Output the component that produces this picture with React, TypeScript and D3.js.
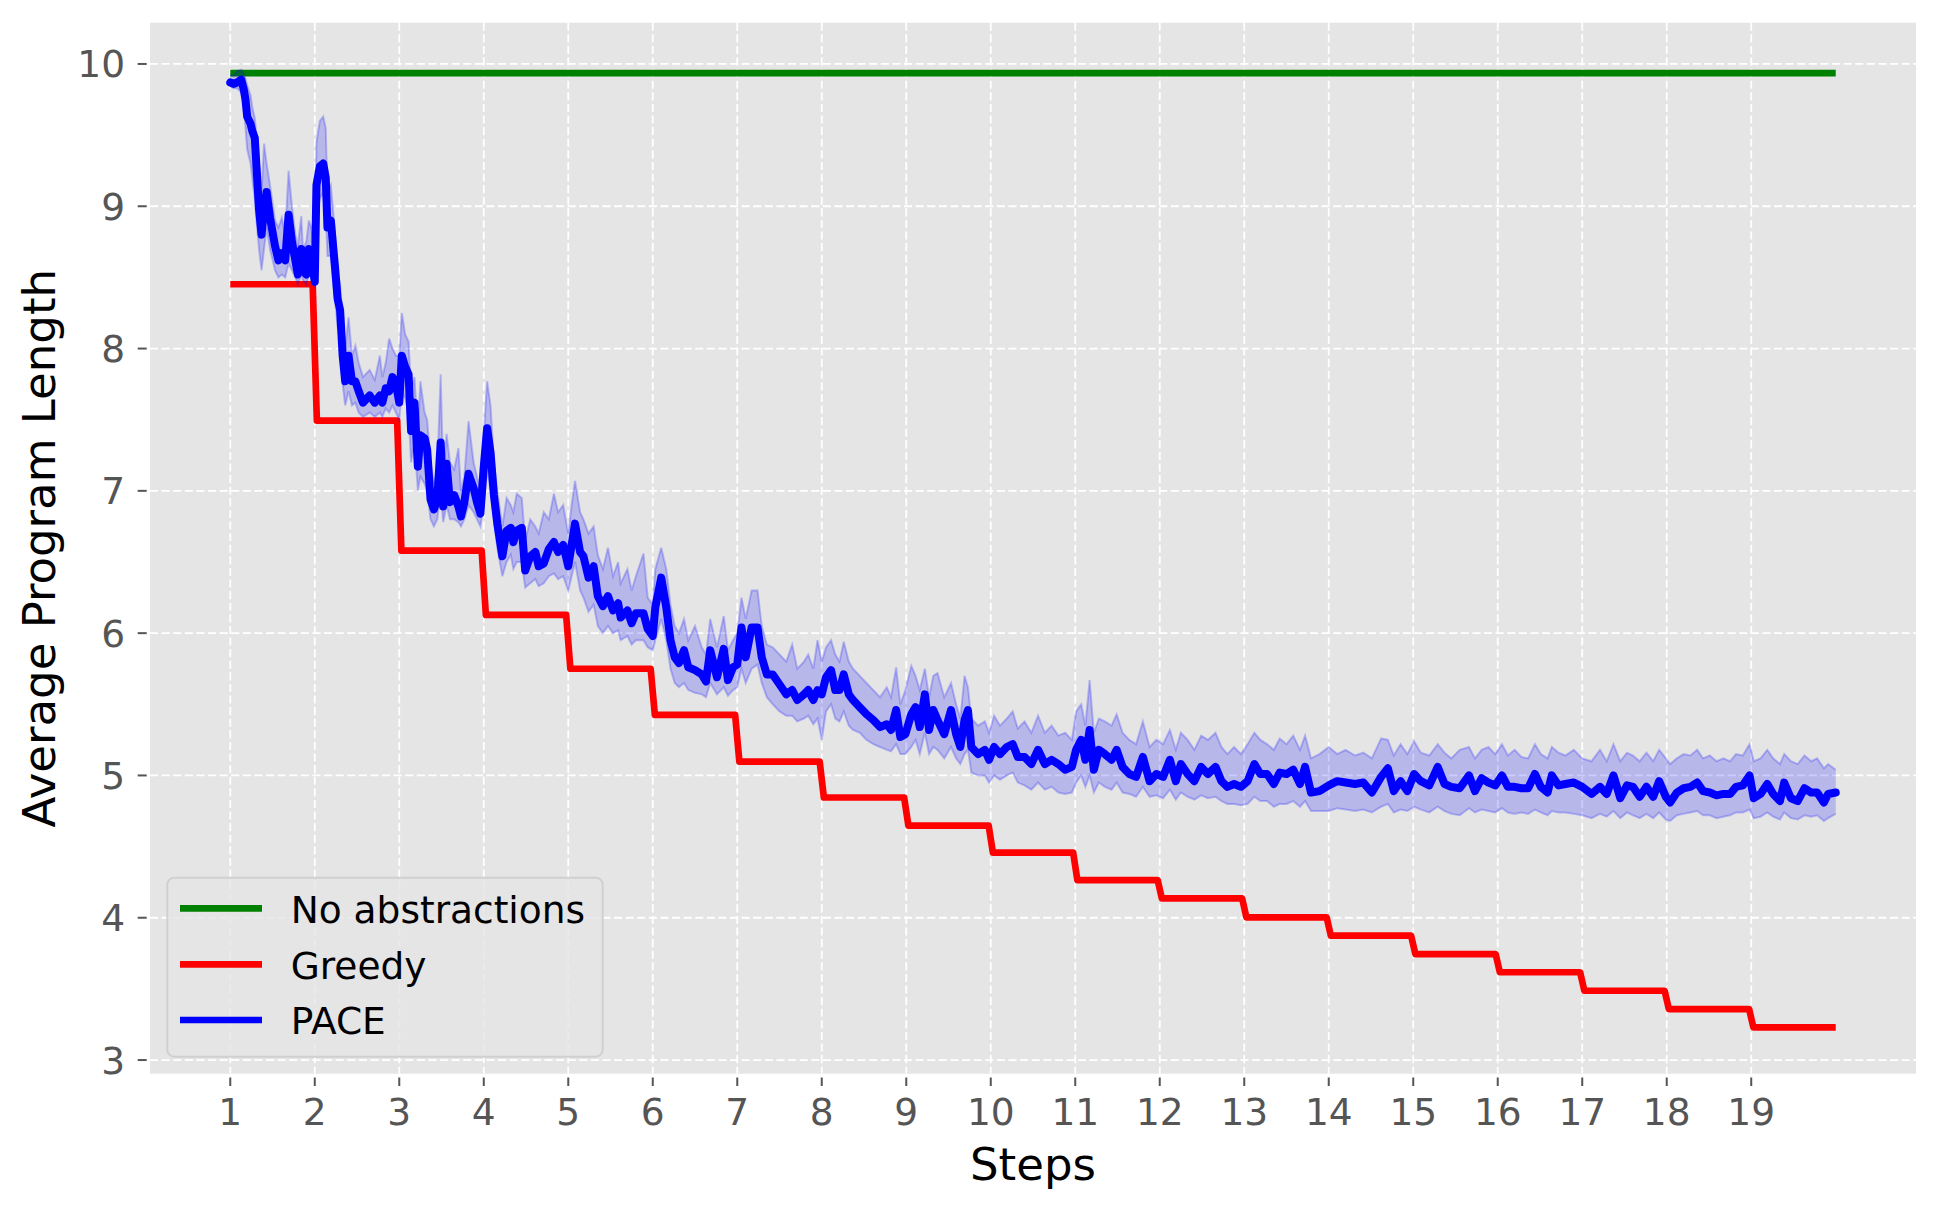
import React from "react";
import * as d3 from "d3";

// ---------------- data ----------------
const xTickLabels = [1, 2, 3, 4, 5, 6, 7, 8, 9, 10, 11, 12, 13, 14, 15, 16, 17, 18, 19];
const yTickLabels = [3, 4, 5, 6, 7, 8, 9, 10];

const seriesNames = ["No abstractions", "Greedy", "PACE"];
const seriesColors = ["#008000", "#ff0000", "#0000ff"];

// No abstractions: constant baseline
const noAbsSteps = [1, 20];
const noAbsValues = [9.935, 9.935];

// Greedy: one level per step (step k spans [k, k+1])
const greedySteps = [1, 2, 3, 4, 5, 6, 7, 8, 9, 10, 11, 12, 13, 14, 15, 16, 17, 18, 19];
const greedyValues = [8.452, 7.493, 6.58, 6.128, 5.75, 5.425, 5.097, 4.845, 4.648, 4.458, 4.265, 4.136, 4.003, 3.874, 3.745, 3.617, 3.487, 3.358, 3.23];

// PACE: mean and band
const paceX = [
  1.00, 1.04, 1.08, 1.13, 1.16, 1.18, 1.20, 1.24, 1.26, 1.29,
  1.31, 1.34, 1.37, 1.40, 1.43, 1.47, 1.53, 1.57, 1.61, 1.65,
  1.69, 1.73, 1.77, 1.80, 1.84, 1.86, 1.90, 1.93, 1.96, 2.00,
  2.02, 2.06, 2.10, 2.13, 2.15, 2.19, 2.22, 2.24, 2.27, 2.30,
  2.33, 2.36, 2.40, 2.44, 2.48, 2.52, 2.57, 2.65, 2.71, 2.77,
  2.80, 2.84, 2.88, 2.92, 2.96, 3.00, 3.03, 3.07, 3.11, 3.14,
  3.18, 3.22, 3.25, 3.30, 3.33, 3.37, 3.41, 3.45, 3.49, 3.52,
  3.56, 3.60, 3.65, 3.70, 3.73, 3.77, 3.82, 3.88, 3.92, 3.96,
  4.00, 4.04, 4.08, 4.12, 4.16, 4.22, 4.27, 4.32, 4.35, 4.39,
  4.45, 4.49, 4.55, 4.61, 4.65, 4.71, 4.77, 4.83, 4.88, 4.94,
  5.00, 5.04, 5.08, 5.14, 5.18, 5.24, 5.30, 5.35, 5.41, 5.47,
  5.53, 5.59, 5.62, 5.70, 5.75, 5.80, 5.89, 5.94, 6.00, 6.03,
  6.10, 6.16, 6.21, 6.26, 6.31, 6.37, 6.42, 6.50, 6.58, 6.63,
  6.68, 6.76, 6.84, 6.89, 6.95, 7.00, 7.05, 7.10, 7.17, 7.24,
  7.29, 7.35, 7.42, 7.50, 7.58, 7.65, 7.71, 7.79, 7.84, 7.90,
  7.95, 8.00, 8.05, 8.11, 8.16, 8.21, 8.26, 8.32, 8.37, 8.45,
  8.53, 8.61, 8.69, 8.77, 8.82, 8.88, 8.93, 8.99, 9.06, 9.11,
  9.16, 9.22, 9.27, 9.32, 9.37, 9.45, 9.53, 9.59, 9.64, 9.69,
  9.73, 9.77, 9.85, 9.93, 9.98, 10.04, 10.11, 10.19, 10.26, 10.32,
  10.40, 10.48, 10.56, 10.64, 10.72, 10.80, 10.88, 10.96, 11.01, 11.07,
  11.12, 11.17, 11.22, 11.28, 11.35, 11.43, 11.49, 11.56, 11.64, 11.72,
  11.80, 11.88, 11.96, 12.04, 12.12, 12.19, 12.25, 12.33, 12.41, 12.49,
  12.57, 12.66, 12.73, 12.80, 12.88, 12.96, 13.04, 13.12, 13.19, 13.27,
  13.35, 13.42, 13.50, 13.58, 13.66, 13.72, 13.79, 13.89, 14.00, 14.10,
  14.20, 14.31, 14.41, 14.51, 14.62, 14.70, 14.77, 14.85, 14.93, 15.01,
  15.09, 15.19, 15.29, 15.37, 15.45, 15.55, 15.66, 15.73, 15.81, 15.89,
  15.97, 16.05, 16.12, 16.20, 16.28, 16.36, 16.44, 16.51, 16.59, 16.64,
  16.72, 16.80, 16.90, 17.00, 17.11, 17.21, 17.29, 17.37, 17.45, 17.53,
  17.60, 17.68, 17.76, 17.84, 17.91, 17.99, 18.04, 18.12, 18.20, 18.28,
  18.36, 18.43, 18.51, 18.59, 18.67, 18.75, 18.82, 18.90, 18.98, 19.03,
  19.11, 19.19, 19.26, 19.34, 19.39, 19.47, 19.55, 19.63, 19.71, 19.78, 19.86, 19.91, 20.00,
];

const paceMean = [
  9.87, 9.86, 9.87, 9.89, 9.82, 9.75, 9.63, 9.58, 9.53, 9.48,
  9.28, 8.98, 8.80, 8.98, 9.10, 8.92, 8.72, 8.62, 8.67, 8.62,
  8.94, 8.75, 8.62, 8.52, 8.70, 8.55, 8.52, 8.70, 8.62, 8.47,
  9.15, 9.28, 9.30, 9.20, 8.85, 8.90, 8.70, 8.57, 8.35, 8.27,
  7.95, 7.77, 7.95, 7.77, 7.77, 7.70, 7.62, 7.67, 7.62, 7.67,
  7.62, 7.72, 7.70, 7.80, 7.75, 7.62, 7.95, 7.87, 7.82, 7.42,
  7.62, 7.17, 7.39, 7.37, 7.29, 6.94, 6.87, 6.94, 7.34, 6.89,
  7.19, 6.92, 6.97, 6.89, 6.82, 6.92, 7.12, 7.02, 6.92, 6.84,
  7.17, 7.44, 7.27, 6.97, 6.77, 6.54, 6.72, 6.74, 6.64, 6.72,
  6.74, 6.44, 6.54, 6.57, 6.47, 6.49, 6.59, 6.64, 6.57, 6.62,
  6.47, 6.62, 6.77, 6.57, 6.54, 6.39, 6.47, 6.26, 6.19, 6.26,
  6.16, 6.21, 6.11, 6.16, 6.07, 6.14, 6.14, 6.03, 5.98, 6.18,
  6.39, 6.18, 5.95, 5.83, 5.79, 5.88, 5.76, 5.74, 5.71, 5.66,
  5.88, 5.69, 5.89, 5.67, 5.76, 5.78, 6.04, 5.83, 6.04, 6.04,
  5.83, 5.71, 5.71, 5.64, 5.57, 5.60, 5.53, 5.57, 5.60, 5.53,
  5.60, 5.57, 5.69, 5.74, 5.60, 5.60, 5.71, 5.57, 5.53, 5.48,
  5.43, 5.39, 5.34, 5.36, 5.32, 5.46, 5.27, 5.29, 5.43, 5.48,
  5.34, 5.57, 5.32, 5.46, 5.39, 5.29, 5.46, 5.29, 5.20, 5.39,
  5.46, 5.20, 5.15, 5.18, 5.11, 5.20, 5.15, 5.20, 5.22, 5.13,
  5.13, 5.08, 5.18, 5.08, 5.11, 5.08, 5.04, 5.06, 5.18, 5.25,
  5.11, 5.32, 5.04, 5.18, 5.15, 5.11, 5.18, 5.06, 5.01, 4.99,
  5.13, 4.96, 5.01, 4.99, 5.11, 4.96, 5.08, 5.01, 4.96, 5.06,
  5.01, 5.06, 4.96, 4.92, 4.94, 4.92, 4.96, 5.08, 5.01, 5.01,
  4.94, 5.02, 5.01, 5.04, 4.94, 5.06, 4.88, 4.89, 4.93, 4.96,
  4.95, 4.94, 4.95, 4.88, 4.99, 5.05, 4.89, 4.96, 4.89, 5.01,
  4.96, 4.93, 5.06, 4.94, 4.92, 4.91, 5.00, 4.89, 4.98, 4.95,
  4.93, 5.00, 4.92, 4.92, 4.91, 4.91, 5.01, 4.92, 4.88, 5.00,
  4.93, 4.94, 4.95, 4.92, 4.87, 4.92, 4.87, 5.00, 4.84, 4.93,
  4.92, 4.85, 4.92, 4.85, 4.96, 4.85, 4.81, 4.88, 4.91, 4.92,
  4.95, 4.89, 4.88, 4.86, 4.87, 4.87, 4.92, 4.93, 5.00, 4.84,
  4.87, 4.94, 4.87, 4.82, 4.95, 4.84, 4.82, 4.91, 4.88, 4.88, 4.81, 4.87, 4.88,
];

const paceLow = [
  9.84, 9.83, 9.83, 9.80, 9.70, 9.55, 9.40, 9.30, 9.20, 9.05,
  8.90, 8.70, 8.55, 8.70, 8.85, 8.70, 8.55, 8.50, 8.52, 8.50,
  8.60, 8.55, 8.50, 8.45, 8.52, 8.48, 8.45, 8.52, 8.50, 8.43,
  8.95, 9.05, 9.10, 8.95, 8.65, 8.65, 8.45, 8.35, 8.15, 8.05,
  7.75, 7.60, 7.70, 7.60, 7.62, 7.55, 7.52, 7.55, 7.52, 7.55,
  7.52, 7.58, 7.55, 7.60, 7.55, 7.50, 7.70, 7.65, 7.55, 7.20,
  7.35, 7.00, 7.10, 7.05, 7.00, 6.80, 6.75, 6.80, 7.00, 6.78,
  6.90, 6.80, 6.80, 6.78, 6.75, 6.80, 6.90, 6.85, 6.80, 6.75,
  6.90, 7.15, 7.00, 6.80, 6.60, 6.40, 6.50, 6.55, 6.45, 6.50,
  6.50, 6.32, 6.35, 6.38, 6.33, 6.35, 6.40, 6.42, 6.38, 6.40,
  6.30, 6.40, 6.50, 6.30, 6.25, 6.15, 6.20, 6.05, 6.00, 6.05,
  6.00, 6.02, 5.95, 5.98, 5.92, 5.95, 5.95, 5.90, 5.88, 5.95,
  6.10, 5.95, 5.75, 5.65, 5.62, 5.65, 5.60, 5.58, 5.57, 5.55,
  5.65, 5.57, 5.62, 5.56, 5.60, 5.62, 5.75, 5.65, 5.75, 5.78,
  5.65, 5.55, 5.50, 5.45, 5.42, 5.42, 5.38, 5.40, 5.42, 5.36,
  5.40, 5.25, 5.45, 5.50, 5.40, 5.38, 5.45, 5.35, 5.32, 5.30,
  5.25, 5.22, 5.20, 5.18, 5.17, 5.22, 5.15, 5.15, 5.20, 5.25,
  5.15, 5.30, 5.15, 5.20, 5.18, 5.12, 5.20, 5.12, 5.08, 5.15,
  5.18, 5.02, 5.00, 5.00, 4.95, 5.00, 4.97, 5.00, 5.02, 4.95,
  4.93, 4.90, 4.95, 4.90, 4.92, 4.88, 4.87, 4.88, 4.95, 5.00,
  4.92, 5.00, 4.88, 4.95, 4.92, 4.90, 4.95, 4.88, 4.87, 4.85,
  4.92, 4.85, 4.86, 4.84, 4.90, 4.83, 4.88, 4.85, 4.83, 4.86,
  4.84, 4.85, 4.82, 4.80, 4.80, 4.79, 4.80, 4.85, 4.82, 4.82,
  4.78, 4.80, 4.80, 4.82, 4.78, 4.82, 4.75, 4.75, 4.75, 4.77,
  4.76, 4.75, 4.76, 4.74, 4.78, 4.80, 4.74, 4.76, 4.75, 4.78,
  4.76, 4.74, 4.78, 4.75, 4.73, 4.72, 4.77, 4.74, 4.76, 4.75,
  4.74, 4.77, 4.74, 4.73, 4.74, 4.73, 4.76, 4.74, 4.72, 4.75,
  4.74, 4.74, 4.73, 4.72, 4.70, 4.73, 4.71, 4.75, 4.70, 4.74,
  4.72, 4.70, 4.73, 4.70, 4.74, 4.69, 4.68, 4.72, 4.73, 4.74,
  4.75, 4.72, 4.72, 4.70, 4.71, 4.72, 4.74, 4.74, 4.76, 4.70,
  4.71, 4.74, 4.71, 4.69, 4.74, 4.70, 4.69, 4.72, 4.71, 4.72, 4.68, 4.70, 4.73,
];

const paceHigh = [
  9.92, 9.92, 9.95, 9.96, 9.93, 9.90, 9.85, 9.78, 9.70, 9.62,
  9.50, 9.30, 9.10, 9.44, 9.30, 9.15, 8.90, 8.85, 8.92, 8.80,
  9.25, 9.00, 8.80, 8.72, 8.93, 8.70, 8.75, 8.90, 8.85, 8.60,
  9.45, 9.60, 9.63, 9.55, 9.10, 9.15, 8.95, 8.80, 8.55, 8.45,
  8.20, 8.00, 8.22, 7.95, 8.02, 7.90, 7.80, 7.85, 7.78, 7.95,
  7.80, 7.90, 8.07, 8.00, 7.95, 7.95, 8.25, 8.10, 8.05, 7.70,
  7.80, 7.40, 7.77, 7.55, 7.50, 7.20, 7.05, 7.15, 7.82, 7.10,
  7.40, 7.20, 7.15, 7.30, 7.00, 7.10, 7.49, 7.20, 7.10, 7.00,
  7.40, 7.77, 7.60, 7.20, 7.00, 6.75, 6.95, 6.90, 6.85, 6.98,
  6.95, 6.65, 6.80, 6.75, 6.70, 6.85, 6.80, 6.98, 6.85, 6.90,
  6.70, 6.90, 7.07, 6.85, 6.80, 6.70, 6.75, 6.55, 6.45, 6.60,
  6.40, 6.50, 6.35, 6.45, 6.30, 6.40, 6.56, 6.25, 6.20, 6.45,
  6.60, 6.45, 6.20, 6.05, 6.00, 6.10, 5.95, 6.05, 5.90, 5.85,
  6.10, 5.90, 6.12, 5.88, 5.95, 6.00, 6.25, 6.10, 6.30, 6.30,
  6.05, 5.92, 5.90, 5.85, 5.80, 5.92, 5.75, 5.80, 5.85, 5.75,
  5.95, 5.80, 5.90, 5.95, 5.85, 5.80, 5.94, 5.80, 5.75, 5.70,
  5.65, 5.60, 5.55, 5.62, 5.55, 5.76, 5.50, 5.60, 5.77, 5.70,
  5.60, 5.75, 5.55, 5.70, 5.72, 5.55, 5.65, 5.50, 5.40, 5.70,
  5.62, 5.40, 5.35, 5.38, 5.30, 5.42, 5.35, 5.40, 5.45, 5.33,
  5.38, 5.30, 5.42, 5.30, 5.35, 5.28, 5.30, 5.25, 5.45, 5.50,
  5.35, 5.67, 5.30, 5.40, 5.38, 5.35, 5.43, 5.30, 5.25, 5.22,
  5.38, 5.20, 5.25, 5.22, 5.32, 5.18, 5.30, 5.25, 5.18, 5.28,
  5.25, 5.30, 5.20, 5.15, 5.20, 5.15, 5.22, 5.30, 5.25, 5.22,
  5.18, 5.26, 5.22, 5.28, 5.18, 5.28, 5.12, 5.15, 5.20, 5.15,
  5.18, 5.14, 5.16, 5.12, 5.26, 5.25, 5.14, 5.22, 5.15, 5.24,
  5.16, 5.14, 5.22, 5.16, 5.12, 5.18, 5.20, 5.12, 5.18, 5.20,
  5.15, 5.22, 5.14, 5.18, 5.13, 5.12, 5.22, 5.15, 5.12, 5.20,
  5.16, 5.14, 5.18, 5.12, 5.10, 5.18, 5.10, 5.22, 5.10, 5.16,
  5.14, 5.10, 5.16, 5.10, 5.18, 5.12, 5.08, 5.12, 5.15, 5.14,
  5.18, 5.12, 5.14, 5.10, 5.12, 5.10, 5.15, 5.14, 5.22, 5.10,
  5.12, 5.18, 5.12, 5.08, 5.15, 5.10, 5.08, 5.14, 5.10, 5.12, 5.05, 5.08, 5.04,
];

// ---------------- layout ----------------
const W = 1938;
const H = 1213;
const M = { left: 150, right: 1916, top: 22.7, bottom: 1073.7 };
const X_DOMAIN = [0.05, 20.95];
const Y_DOMAIN = [2.904, 10.29];
const FONT = "'DejaVu Sans', 'Liberation Sans', sans-serif";
const TICK_FONT = 37.5;
const LABEL_FONT = 45;
const LINE_W = 6.7;
const PACE_W = 8;
const DROP = 0.025;

export default function App() {
  const x = d3.scaleLinear().domain(X_DOMAIN).range([M.left, M.right]);
  const y = d3.scaleLinear().domain(Y_DOMAIN).range([M.bottom, M.top]);

  const n = Math.min(paceX.length, paceMean.length, paceLow.length, paceHigh.length);
  const idx = d3.range(n);

  const meanLine = d3
    .line<number>()
    .x((i) => x(paceX[i]))
    .y((i) => y(paceMean[i]));
  const band = d3
    .area<number>()
    .x((i) => x(paceX[i]))
    .y0((i) => y(paceLow[i]))
    .y1((i) => y(paceHigh[i]));
  const bandUpper = d3
    .line<number>()
    .x((i) => x(paceX[i]))
    .y((i) => y(paceHigh[i]));
  const bandLower = d3
    .line<number>()
    .x((i) => x(paceX[i]))
    .y((i) => y(paceLow[i]));

  // greedy staircase points
  const greedyPts: [number, number][] = [];
  greedySteps.forEach((s, k) => {
    const v = greedyValues[k];
    const start = k === 0 ? s : s + DROP;
    const end = k === greedySteps.length - 1 ? s + 1 : s + 1 - DROP;
    greedyPts.push([start, v]);
    greedyPts.push([end, v]);
  });
  const xyLine = d3
    .line<[number, number]>()
    .x((d) => x(d[0]))
    .y((d) => y(d[1]));

  const noAbsPts: [number, number][] = noAbsSteps.map((s, i) => [s, noAbsValues[i]]);

  const legendX = 167.3;
  const legendY = 877.7;
  const legendW = 435.4;
  const legendH = 179;
  const legendRowY = [908.3, 964.3, 1020];

  return (
    <svg
      width={W}
      height={H}
      viewBox={`0 0 ${W} ${H}`}
      style={{ position: "absolute", left: 0, top: 0, background: "#ffffff" }}
      fontFamily={FONT}
    >
      <rect x={0} y={0} width={W} height={H} fill="#ffffff" />
      {/* plot background */}
      <rect
        x={M.left}
        y={M.top}
        width={M.right - M.left}
        height={M.bottom - M.top}
        fill="#e5e5e5"
      />
      <defs>
        <clipPath id="plotclip">
          <rect x={M.left} y={M.top} width={M.right - M.left} height={M.bottom - M.top} />
        </clipPath>
      </defs>

      {/* grid */}
      <g stroke="#ffffff" strokeWidth={1.8} strokeDasharray="8.1 3.5" fill="none">
        {xTickLabels.map((t) => (
          <line key={`gx${t}`} x1={x(t)} x2={x(t)} y1={M.top} y2={M.bottom} />
        ))}
        {yTickLabels.map((t) => (
          <line key={`gy${t}`} x1={M.left} x2={M.right} y1={y(t)} y2={y(t)} />
        ))}
      </g>

      {/* ticks */}
      <g stroke="#555555" strokeWidth={2}>
        {xTickLabels.map((t) => (
          <line key={`tx${t}`} x1={x(t)} x2={x(t)} y1={M.bottom + 3.8} y2={M.bottom + 12.3} />
        ))}
        {yTickLabels.map((t) => (
          <line key={`ty${t}`} x1={M.left - 12.3} x2={M.left - 3.3} y1={y(t)} y2={y(t)} />
        ))}
      </g>
      <g fill="#555555" fontSize={TICK_FONT}>
        {xTickLabels.map((t) => (
          <text key={`lx${t}`} x={x(t)} y={M.bottom + 51} textAnchor="middle">
            {t}
          </text>
        ))}
        {yTickLabels.map((t) => (
          <text key={`ly${t}`} x={M.left - 25} y={y(t) + 13.5} textAnchor="end">
            {t}
          </text>
        ))}
      </g>

      {/* axis labels */}
      <text
        x={(M.left + M.right) / 2}
        y={1180}
        textAnchor="middle"
        fontSize={LABEL_FONT}
        fill="#000000"
      >
        Steps
      </text>
      <text
        transform={`translate(55, ${(M.top + M.bottom) / 2}) rotate(-90)`}
        textAnchor="middle"
        fontSize={LABEL_FONT}
        fill="#000000"
      >
        Average Program Length
      </text>

      {/* series */}
      <g clipPath="url(#plotclip)">
        <path
          d={xyLine(noAbsPts) || ""}
          fill="none"
          stroke={seriesColors[0]}
          strokeWidth={LINE_W}
        />
        <path
          d={xyLine(greedyPts) || ""}
          fill="none"
          stroke={seriesColors[1]}
          strokeWidth={LINE_W}
          strokeLinejoin="round"
        />
        <path d={band(idx) || ""} fill={seriesColors[2]} fillOpacity={0.2} stroke="none" />
        <path
          d={bandUpper(idx) || ""}
          fill="none"
          stroke={seriesColors[2]}
          strokeOpacity={0.22}
          strokeWidth={2}
        />
        <path
          d={bandLower(idx) || ""}
          fill="none"
          stroke={seriesColors[2]}
          strokeOpacity={0.22}
          strokeWidth={2}
        />
        <path
          d={meanLine(idx) || ""}
          fill="none"
          stroke={seriesColors[2]}
          strokeWidth={PACE_W}
          strokeLinejoin="round"
          strokeLinecap="round"
        />
      </g>

      {/* legend */}
      <rect
        x={legendX}
        y={legendY}
        width={legendW}
        height={legendH}
        rx={7}
        ry={7}
        fill="#e5e5e5"
        fillOpacity={0.8}
        stroke="#d0d0d0"
        strokeWidth={2}
      />
      {seriesNames.map((name, i) => (
        <g key={name}>
          <line
            x1={180}
            x2={262}
            y1={legendRowY[i]}
            y2={legendRowY[i]}
            stroke={seriesColors[i]}
            strokeWidth={LINE_W}
          />
          <text x={290.7} y={legendRowY[i] + 14.4} fontSize={TICK_FONT} fill="#000000">
            {name}
          </text>
        </g>
      ))}
    </svg>
  );
}
